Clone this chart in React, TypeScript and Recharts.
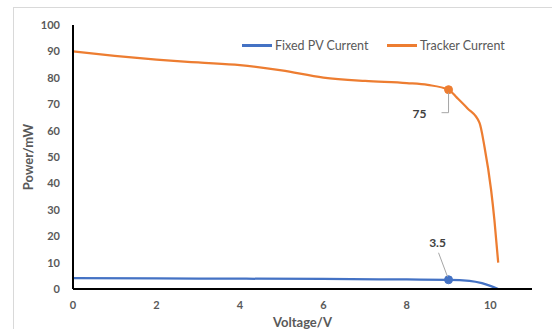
import React from 'react';
import { LineChart, Line, XAxis, YAxis, LabelList } from 'recharts';

const trackerVoltage = [0, 1, 2, 3, 4, 5, 6, 7, 8, 8.5, 9, 9.2, 9.45, 9.74, 9.86, 10.02, 10.1, 10.19];
const trackerPower = [90, 88.3, 86.9, 85.8, 84.8, 82.8, 80.1, 78.8, 78, 77.3, 75.5, 72.5, 68.5, 63, 54, 37.5, 26, 10];
const fixedVoltage = [0, 2, 4, 6, 8, 9, 9.5, 9.8, 10, 10.19];
const fixedPower = [4.1, 4.0, 3.9, 3.8, 3.6, 3.5, 3.1, 2.2, 1.2, 0];
const seriesNames = ['Fixed PV Current', 'Tracker Current'];
const seriesColors = ['#4472C4', '#ED7D31'];
const labelVoltage = 9;
const trackerLabelText = '75';
const fixedLabelText = '3.5';
const xTicks = [0, 2, 4, 6, 8, 10];
const yTicks = [0, 10, 20, 30, 40, 50, 60, 70, 80, 90, 100];

const trackerData = trackerVoltage.map((x, i) => ({ x, y: trackerPower[i] }));
const fixedData = fixedVoltage.map((x, i) => ({ x, y: fixedPower[i] }));
const trackerLabelIdx = trackerVoltage.indexOf(labelVoltage);
const fixedLabelIdx = fixedVoltage.indexOf(labelVoltage);

const FONT = 'Lato, "Open Sans", sans-serif';
const GRAY = '#595959';

const makeDot = (idx: number, color: string) => (props: any) => {
  if (props.index !== idx) return <g key={`d${props.index}`} />;
  return <circle key={`d${props.index}`} cx={props.cx} cy={props.cy} r={4} fill={color} stroke={color} />;
};

const trackerLabel = (props: any) => {
  if (props.index !== trackerLabelIdx) return null;
  const { x, y } = props;
  return (
    <g>
      <polyline points={`${x},${y + 3} ${x},${y + 23} ${x - 7},${y + 23}`} fill="none" stroke="#a6a6a6" strokeWidth={1} />
      <text x={x - 29} y={y + 24} textAnchor="middle" dominantBaseline="central" fontFamily={FONT} fontWeight="bold" fontSize={12} fill="#404040">
        {trackerLabelText}
      </text>
    </g>
  );
};

const fixedLabel = (props: any) => {
  if (props.index !== fixedLabelIdx) return null;
  const { x, y } = props;
  return (
    <g>
      <line x1={x - 10} y1={y - 27} x2={x - 1} y2={y - 3} stroke="#a6a6a6" strokeWidth={1} />
      <text x={x - 11} y={y - 37} textAnchor="middle" dominantBaseline="central" fontFamily={FONT} fontWeight="bold" fontSize={12} fill="#404040">
        {fixedLabelText}
      </text>
    </g>
  );
};

const tickStyle = { fontFamily: FONT, fontWeight: 'bold' as const, fontSize: 11, fill: GRAY };

export default function App() {
  return (
    <div style={{ position: 'absolute', left: 0, top: 0, width: 552, height: 329, background: '#fff', overflow: 'hidden' }}>
      <div style={{ position: 'absolute', left: 13, top: 7, width: 600, height: 400, borderLeft: '1px solid #d9d9d9', borderTop: '1px solid #d9d9d9' }} />
      <div style={{ position: 'absolute', left: 0, top: 0 }}>
        <LineChart width={552} height={329} margin={{ top: 25, right: 20, bottom: 0, left: 0 }}>
          <XAxis
            type="number"
            dataKey="x"
            domain={[0, 11]}
            ticks={xTicks}
            height={40}
            tickLine={false}
            tickSize={0}
            tickMargin={12}
            axisLine={{ stroke: '#000', strokeWidth: 2 }}
            tick={tickStyle}
            label={{
              content: (p: any) => (
                <text x={p.viewBox.x + p.viewBox.width / 2} y={p.viewBox.y + 33} textAnchor="middle" dominantBaseline="central" fontFamily={FONT} fontWeight="bold" fontSize={13} fill={GRAY}>
                  Voltage/V
                </text>
              ),
            }}
          />
          <YAxis
            type="number"
            domain={[0, 100]}
            ticks={yTicks}
            width={73}
            tickLine={false}
            tickSize={0}
            tickMargin={13}
            axisLine={{ stroke: '#000', strokeWidth: 2 }}
            tick={tickStyle}
            label={{
              content: (p: any) => {
                const cx = p.viewBox.x + 28;
                const cy = p.viewBox.y + p.viewBox.height / 2;
                return (
                  <text x={cx} y={cy} transform={`rotate(-90 ${cx} ${cy})`} textAnchor="middle" dominantBaseline="central" fontFamily={FONT} fontWeight="bold" fontSize={13} fill={GRAY}>
                    Power/mW
                  </text>
                );
              },
            }}
          />
          <Line data={fixedData} dataKey="y" type="monotone" stroke={seriesColors[0]} strokeWidth={2.25} dot={makeDot(fixedLabelIdx, seriesColors[0])} activeDot={false} isAnimationActive={false}>
            <LabelList dataKey="y" content={fixedLabel} />
          </Line>
          <Line data={trackerData} dataKey="y" type="monotone" stroke={seriesColors[1]} strokeWidth={2.25} dot={makeDot(trackerLabelIdx, seriesColors[1])} activeDot={false} isAnimationActive={false}>
            <LabelList dataKey="y" content={trackerLabel} />
          </Line>
        </LineChart>
      </div>
      {seriesNames.map((name, i) => (
        <div key={name} style={{ position: 'absolute', left: i === 0 ? 242 : 387, top: 38, display: 'flex', alignItems: 'center', fontFamily: FONT, fontSize: 12.5, color: GRAY, whiteSpace: 'nowrap' }}>
          <span style={{ display: 'inline-block', width: 30, height: 2.5, background: seriesColors[i], marginRight: 3 }} />
          <span>{name}</span>
        </div>
      ))}
    </div>
  );
}
